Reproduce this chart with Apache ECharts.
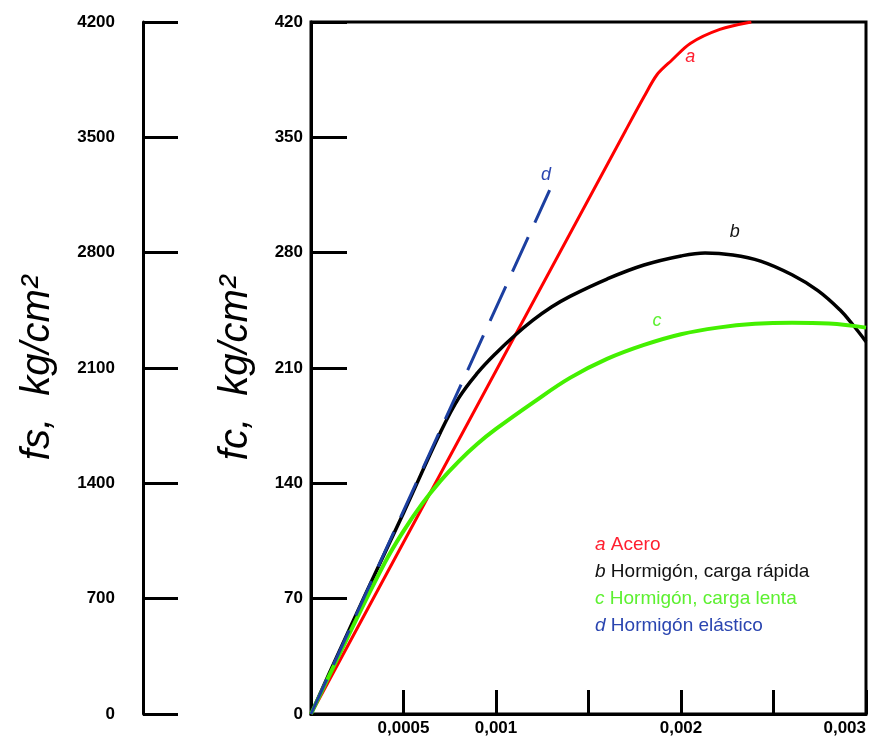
<!DOCTYPE html>
<html>
<head>
<meta charset="utf-8">
<script src="https://cdn.jsdelivr.net/npm/echarts@6/dist/echarts.min.js"></script>
<style>
	html, body { margin: 0; padding: 0; background: #fff; }
	#chart { width: 873px; height: 740px; }
</style>
</head>
<body>
<div id="chart"></div>
<script>
// strain values, x axis
var xLabelValues = [0.0005, 0.001, 0.002, 0.003];
var xLabelTexts = ['0,0005', '0,001', '0,002', '0,003'];

// a: steel, in fs (kg/cm2)
var steelPts = [
	[0, 0], [0.0017, 3540], [0.0018, 3746], [0.00187, 3880], [0.00195, 3968],
	[0.00205, 4070], [0.00221, 4155], [0.00238, 4200]
];
// b: concrete, quick load, in fc (kg/cm2)
var quickPts = [
	[0, 0], [0.0001, 25], [0.0003, 74], [0.0005, 122], [0.0007, 171],
	[0.0008, 192], [0.0009, 207], [0.001, 219], [0.0011, 229.6], [0.0012, 239],
	[0.0013, 247], [0.0014, 253.5], [0.0016, 264], [0.0018, 272.5], [0.002, 278],
	[0.00213, 279.8], [0.00228, 278.6], [0.00243, 274.9], [0.0026, 266.6],
	[0.00274, 257], [0.00286, 245.2], [0.00293, 236.1], [0.003, 226]
];
// c: concrete, slow load
var slowPts = [
	[0, 0], [0.0002, 47], [0.0004, 92], [0.0005, 111], [0.0006, 127.5],
	[0.0007, 141.5], [0.0008, 153.5], [0.0009, 164], [0.001, 173], [0.0012, 189],
	[0.0014, 204], [0.0016, 215.5], [0.0018, 224], [0.002, 230.5], [0.0022, 234.5],
	[0.0024, 236.8], [0.0026, 237.5], [0.0028, 237], [0.003, 234.5]
];
// d: elastic concrete
var elasticPts = [[0, 0], [0.00129, 318]];

var seriesNames = ['Acero', 'Hormigón, carga rápida', 'Hormigón, carga lenta', 'Hormigón elástico'];
var seriesLetters = ['a', 'b', 'c', 'd'];
var letterPos = [[0.00205, 3987], [0.00229, 292.5], [0.00187, 238.5], [0.00127, 327]];

var lineColors = ['#ff0000', '#000000', '#44f000', '#1c3fa0'];
var textColors = ['#ff2030', '#111111', '#5cf030', '#2a45b0'];

var font = 'Liberation Sans, Arial, sans-serif';

function letterMark(i) {
	return {
		symbol: 'circle',
		symbolSize: 1,
		itemStyle: { color: 'transparent' },
		label: {
			show: true,
			position: 'inside',
			formatter: seriesLetters[i],
			color: textColors[i],
			fontStyle: 'italic',
			fontSize: 18,
			fontFamily: font
		},
		data: [{ coord: letterPos[i] }]
	};
}

var myChart = echarts.init(document.getElementById('chart'));

var option = {
	animation: false,
	grid: {
		left: 311, right: 7, top: 22, bottom: 26,
		show: true,
		borderColor: '#000',
		borderWidth: 3
	},
	legend: {
		orient: 'vertical',
		left: 590,
		top: 535,
		itemGap: 8,
		icon: 'none',
		itemWidth: 0,
		itemHeight: 19,
		padding: 0,
		selectedMode: false,
		textStyle: { fontSize: 19, fontFamily: font },
		formatter: function (name) {
			var k = seriesNames.indexOf(name);
			return '{it|' + seriesLetters[k] + '} ' + name;
		},
		data: seriesNames.map(function (n, i) {
			return {
				name: n,
				textStyle: {
					color: textColors[i],
					rich: { it: { fontStyle: 'italic', fontSize: 19, fontFamily: font } }
				}
			};
		})
	},
	xAxis: {
		type: 'value',
		min: 0,
		max: 0.003,
		interval: 0.0005,
		axisLine: { lineStyle: { color: '#000', width: 3 } },
		axisTick: { inside: true, length: 24, lineStyle: { color: '#000', width: 3 } },
		splitLine: { show: false },
		axisLabel: {
			color: '#000',
			fontWeight: 'bold',
			fontSize: 17,
			fontFamily: font,
			margin: 6,
			alignMaxLabel: 'right',
			formatter: function (v) {
				for (var i = 0; i < xLabelValues.length; i++) {
					if (Math.abs(v - xLabelValues[i]) < 1e-9) return xLabelTexts[i];
				}
				return '';
			}
		}
	},
	yAxis: [{
		type: 'value',
		min: 0,
		max: 420,
		interval: 70,
		position: 'left',
		name: 'fc,  kg/cm²',
		nameLocation: 'middle',
		nameRotate: 90,
		nameGap: 55,
		nameTextStyle: { fontStyle: 'italic', fontSize: 40, fontFamily: font, color: '#000' },
		axisLine: { show: true, lineStyle: { color: '#000', width: 3 } },
		axisTick: { show: true, inside: true, length: 36, lineStyle: { color: '#000', width: 3 } },
		splitLine: { show: false },
		axisLabel: { color: '#000', fontWeight: 'bold', fontSize: 17, fontFamily: font, margin: 8 }
	}, {
		type: 'value',
		min: 0,
		max: 4200,
		interval: 700,
		position: 'left',
		offset: 168,
		name: 'fs,  kg/cm²',
		nameLocation: 'middle',
		nameRotate: 90,
		nameGap: 85,
		nameTextStyle: { fontStyle: 'italic', fontSize: 40, fontFamily: font, color: '#000' },
		axisLine: { show: true, lineStyle: { color: '#000', width: 3 } },
		axisTick: { show: true, inside: true, length: 35, lineStyle: { color: '#000', width: 3 } },
		splitLine: { show: false },
		axisLabel: {
			color: '#000', fontWeight: 'bold', fontSize: 17, fontFamily: font, margin: 28,
			formatter: function (v) { return String(v); }
		}
	}],
	series: [{
		name: seriesNames[0],
		type: 'line',
		yAxisIndex: 1,
		data: steelPts,
		showSymbol: false,
		smooth: 0.3,
		lineStyle: { color: lineColors[0], width: 3 },
		itemStyle: { color: lineColors[0] },
		markPoint: letterMark(0)
	}, {
		name: seriesNames[1],
		type: 'line',
		data: quickPts,
		showSymbol: false,
		smooth: 0.4,
		lineStyle: { color: lineColors[1], width: 3.5 },
		itemStyle: { color: lineColors[1] },
		markPoint: letterMark(1)
	}, {
		name: seriesNames[2],
		type: 'line',
		data: slowPts,
		showSymbol: false,
		smooth: 0.4,
		lineStyle: { color: lineColors[2], width: 4 },
		itemStyle: { color: lineColors[2] },
		markPoint: letterMark(2)
	}, {
		name: seriesNames[3],
		type: 'line',
		data: elasticPts,
		showSymbol: false,
		lineStyle: { color: lineColors[3], width: 3, type: [38, 16] },
		itemStyle: { color: lineColors[3] },
		markPoint: letterMark(3)
	}]
};

myChart.setOption(option);
</script>
</body>
</html>
